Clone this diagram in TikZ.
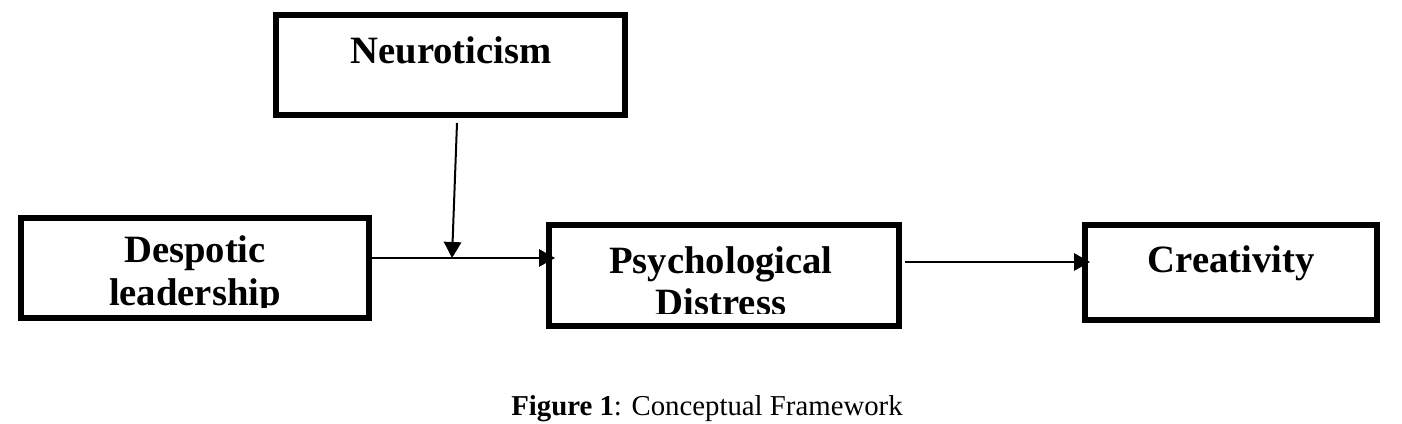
\documentclass[tikz,border=0pt]{standalone}
\usepackage{fontspec}
\setmainfont{Liberation Serif}
\usetikzlibrary{arrows.meta,calc}
\begin{document}
\begin{tikzpicture}[x=0.75pt,y=-0.75pt,
  varbox/.style 2 args={draw, line width=4.5pt, inner sep=0pt,
    minimum width=#1*0.75pt, minimum height=#2*0.75pt},
  lbl/.style={anchor=base, inner sep=0pt, font=\fontsize{29}{34}\selectfont\bfseries},
  conn/.style={line width=1.5pt, -{Triangle[length=12pt,width=13pt]}}]
\useasboundingbox (0,0) rectangle (1402,424);
% boxes (centre, path size = outer size - line width)
\node[varbox={349}{100}] (neur)  at (450.5,65)   {};
\node[varbox={348}{100}] (desp)  at (195,268)    {};
\node[varbox={350}{101}] (psych) at (724,275.5)  {};
\node[varbox={292}{95}]  (creat) at (1231,272.5) {};
% labels
\node[lbl] (tneur) at (451,64) {Neuroticism};
\node[lbl] (tdesp1) at (195,262) {Despotic};
\begin{scope}
  \clip (18,215) rectangle (372,307);
  \node[lbl] (tdesp2) at (195,305) {leadership};
\end{scope}
\node[lbl] (tpsy1) at (721,273) {Psychological};
\begin{scope}
  \clip (546,222) rectangle (902,313);
  \node[lbl] (tpsy2) at (721,315) {Distress};
\end{scope}
\node[lbl] (tcre) at (1231,272) {Creativity};
% connectors
\coordinate (m) at (452,258);
\draw[conn] ($(neur.south)+(6.5,5)$) -- (m);
\draw[conn] (desp.east |- m) -- ($(psych.west |- m)+(9,0)$);
\draw[conn] ($(psych.east)+(3,-13.5)$) -- ($(creat.west)+(8,-10.5)$);
% caption
\node[anchor=base, inner sep=0pt, font=\fontsize{21.6}{26}\selectfont] (cap) at (707,415)
  {\textbf{Figure 1}: Conceptual Framework};
\end{tikzpicture}
\end{document}
